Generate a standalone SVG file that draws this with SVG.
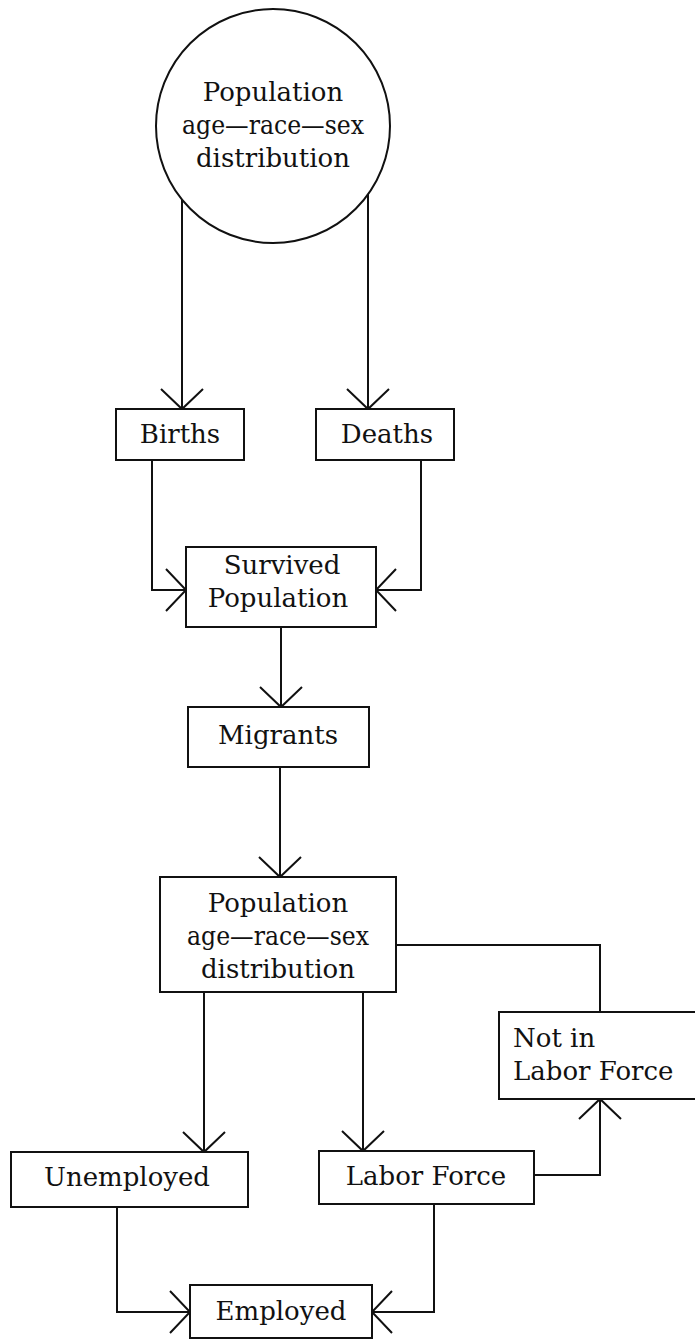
<svg xmlns="http://www.w3.org/2000/svg" width="695" height="1342" viewBox="0 0 695 1342">
<style>
.box{fill:#fff;stroke:#111;stroke-width:2}
.lbl{font-family:"DejaVu Serif","Liberation Serif",serif;font-size:26px;fill:#111}
.c{text-anchor:middle}
.wire{fill:none;stroke:#111;stroke-width:2;marker-end:url(#v)}
.plain{fill:none;stroke:#111;stroke-width:2}
</style>
<defs>
<marker id="v" markerUnits="userSpaceOnUse" viewBox="-24 -24 28 48" refX="0" refY="0" markerWidth="28" markerHeight="48" orient="auto" overflow="visible">
<path d="M-20,-21 L0,0 L-20,21" fill="none" stroke="#111" stroke-width="2"/>
</marker>
</defs>
<rect width="695" height="1342" fill="#fff"/>
<g id="connectors">
<path class="wire" d="M182,199 L182,409"/>
<path class="wire" d="M368,194 L368,409"/>
<path class="wire" d="M152,460 L152,590 L186,590"/>
<path class="wire" d="M421,460 L421,590 L376,590"/>
<path class="wire" d="M281,627 L281,707"/>
<path class="wire" d="M280,767 L280,877"/>
<path class="plain" d="M396,945 L600,945 L600,1012"/>
<path class="wire" d="M204,992 L204,1152"/>
<path class="wire" d="M363,992 L363,1151"/>
<path class="wire" d="M534,1175 L600,1175 L600,1099"/>
<path class="wire" d="M117,1207 L117,1312 L190,1312"/>
<path class="wire" d="M434,1204 L434,1312 L372,1312"/>
</g>
<g id="population-top">
<circle class="box" cx="273" cy="126" r="117"/>
<text class="lbl c" x="273" y="101">Population</text>
<text class="lbl c" x="273" y="134" textLength="182" lengthAdjust="spacingAndGlyphs">age—race—sex</text>
<text class="lbl c" x="273" y="167">distribution</text>
</g>
<g id="births">
<rect class="box" x="116" y="409" width="128" height="51"/>
<text class="lbl c" x="180" y="443">Births</text>
</g>
<g id="deaths">
<rect class="box" x="316" y="409" width="138" height="51"/>
<text class="lbl c" x="387" y="443">Deaths</text>
</g>
<g id="survived">
<rect class="box" x="186" y="547" width="190" height="80"/>
<text class="lbl c" x="282" y="574">Survived</text>
<text class="lbl c" x="278" y="607">Population</text>
</g>
<g id="migrants">
<rect class="box" x="188" y="707" width="181" height="60"/>
<text class="lbl c" x="278" y="744">Migrants</text>
</g>
<g id="population">
<rect class="box" x="160" y="877" width="236" height="115"/>
<text class="lbl c" x="278" y="912">Population</text>
<text class="lbl c" x="278" y="945" textLength="182" lengthAdjust="spacingAndGlyphs">age—race—sex</text>
<text class="lbl c" x="278" y="978">distribution</text>
</g>
<g id="not-in-labor-force">
<rect class="box" x="499" y="1012" width="200" height="87"/>
<text class="lbl" x="513" y="1047">Not in</text>
<text class="lbl" x="513" y="1080">Labor Force</text>
</g>
<g id="unemployed">
<rect class="box" x="11" y="1152" width="237" height="55"/>
<text class="lbl c" x="127" y="1186">Unemployed</text>
</g>
<g id="labor-force">
<rect class="box" x="319" y="1151" width="215" height="53"/>
<text class="lbl c" x="426" y="1185">Labor Force</text>
</g>
<g id="employed">
<rect class="box" x="190" y="1285" width="182" height="53"/>
<text class="lbl c" x="281" y="1320">Employed</text>
</g>
</svg>
